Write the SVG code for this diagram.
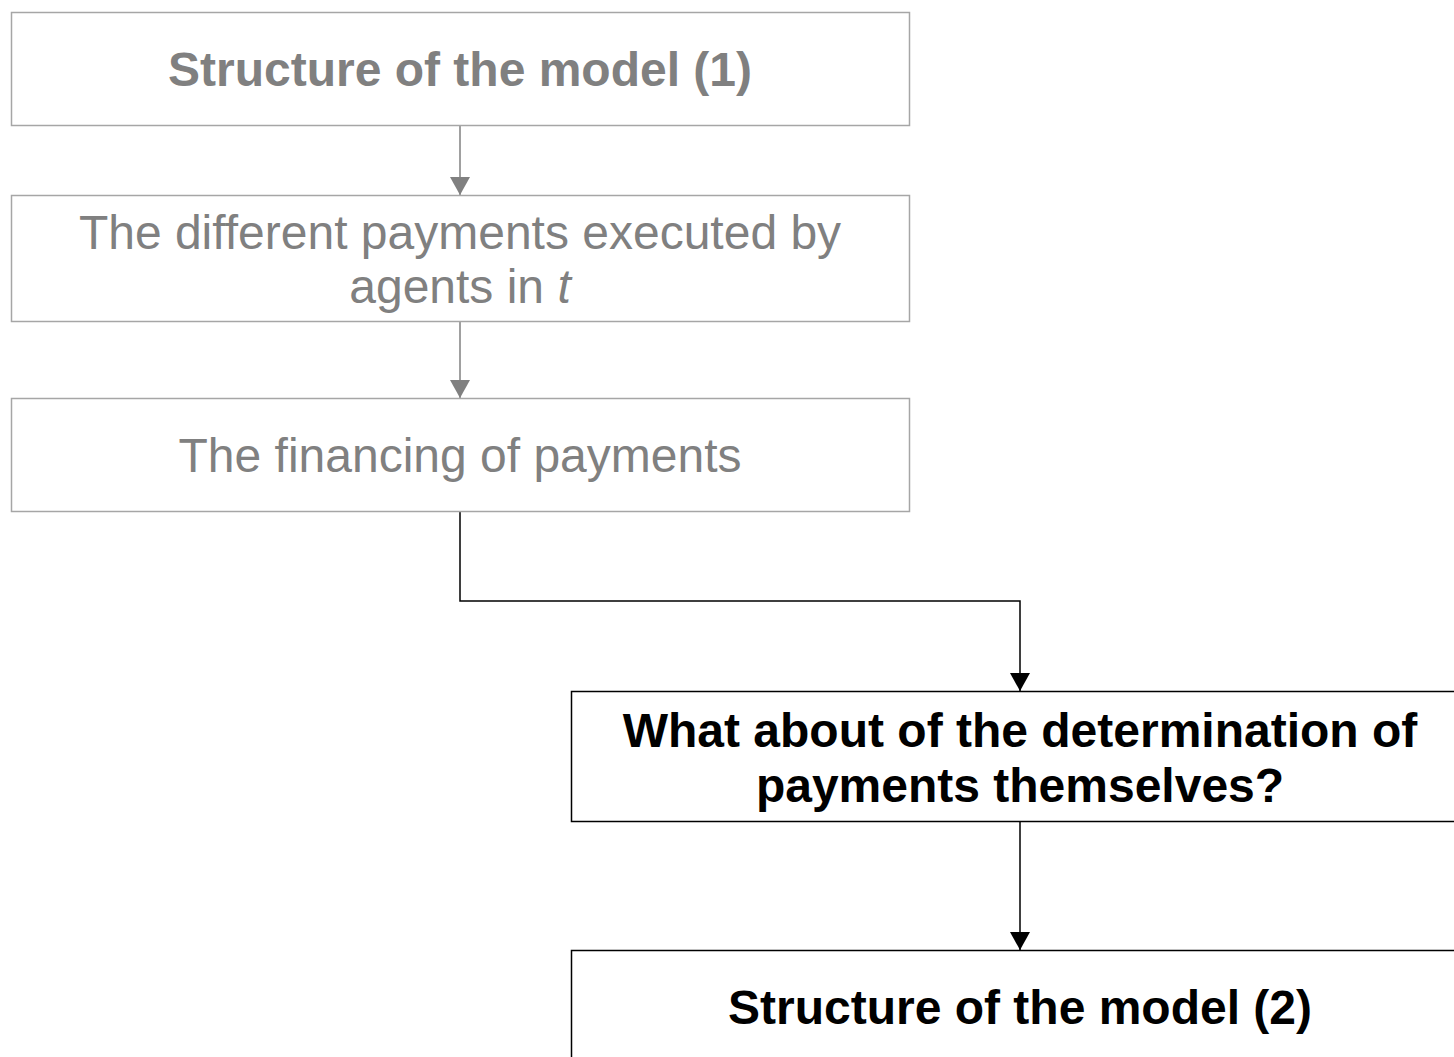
<svg xmlns="http://www.w3.org/2000/svg" width="1454" height="1057" viewBox="0 0 1454 1057">
  <style>
    .box-muted { fill: #ffffff; stroke: #a6a6a6; stroke-width: 1.5; }
    .box-main { fill: #ffffff; stroke: #000000; stroke-width: 1.5; }
    .label { font-family: "Liberation Sans", Arial, sans-serif; font-size: 48px; text-anchor: middle; }
    .muted { fill: #808080; }
    .main { fill: #000000; }
    .bold { font-weight: bold; }
    .link-muted { fill: none; stroke: #808080; stroke-width: 1.5; }
    .link-main { fill: none; stroke: #000000; stroke-width: 1.5; }
  </style>
  <rect width="1454" height="1057" fill="#ffffff"/>

  <g id="connectors">
    <path class="link-muted" d="M460,125 L460,195"/>
    <path class="link-muted" d="M460,321 L460,398"/>
    <path class="link-main" d="M460,511 L460,601 L1020,601 L1020,691"/>
    <path class="link-main" d="M1020,821 L1020,950"/>
    <path d="M450,177 L470,177 L460,195 Z" fill="#808080"/>
    <path d="M450,380 L470,380 L460,398 Z" fill="#808080"/>
    <path d="M1010,673 L1030,673 L1020,691 Z" fill="#000000"/>
    <path d="M1010,932 L1030,932 L1020,950 Z" fill="#000000"/>
  </g>

  <g id="node-structure-1">
    <rect class="box-muted" x="11.5" y="12.5" width="898" height="113"/>
    <text class="label muted bold" x="460" y="86">Structure of the model (1)</text>
  </g>

  <g id="node-payments">
    <rect class="box-muted" x="11.5" y="195.5" width="898" height="126"/>
    <text class="label muted" x="460" y="249">The different payments executed by</text>
    <text class="label muted" x="460" y="303">agents in <tspan font-style="italic">t</tspan></text>
  </g>

  <g id="node-financing">
    <rect class="box-muted" x="11.5" y="398.5" width="898" height="113"/>
    <text class="label muted" x="460" y="472">The financing of payments</text>
  </g>

  <g id="node-question">
    <rect class="box-main" x="571.5" y="691.5" width="890" height="130"/>
    <text class="label main bold" x="1020" y="747">What about of the determination of</text>
    <text class="label main bold" x="1020" y="802">payments themselves?</text>
  </g>

  <g id="node-structure-2">
    <rect class="box-main" x="571.5" y="950.5" width="890" height="120"/>
    <text class="label main bold" x="1020" y="1024">Structure of the model (2)</text>
  </g>
</svg>
